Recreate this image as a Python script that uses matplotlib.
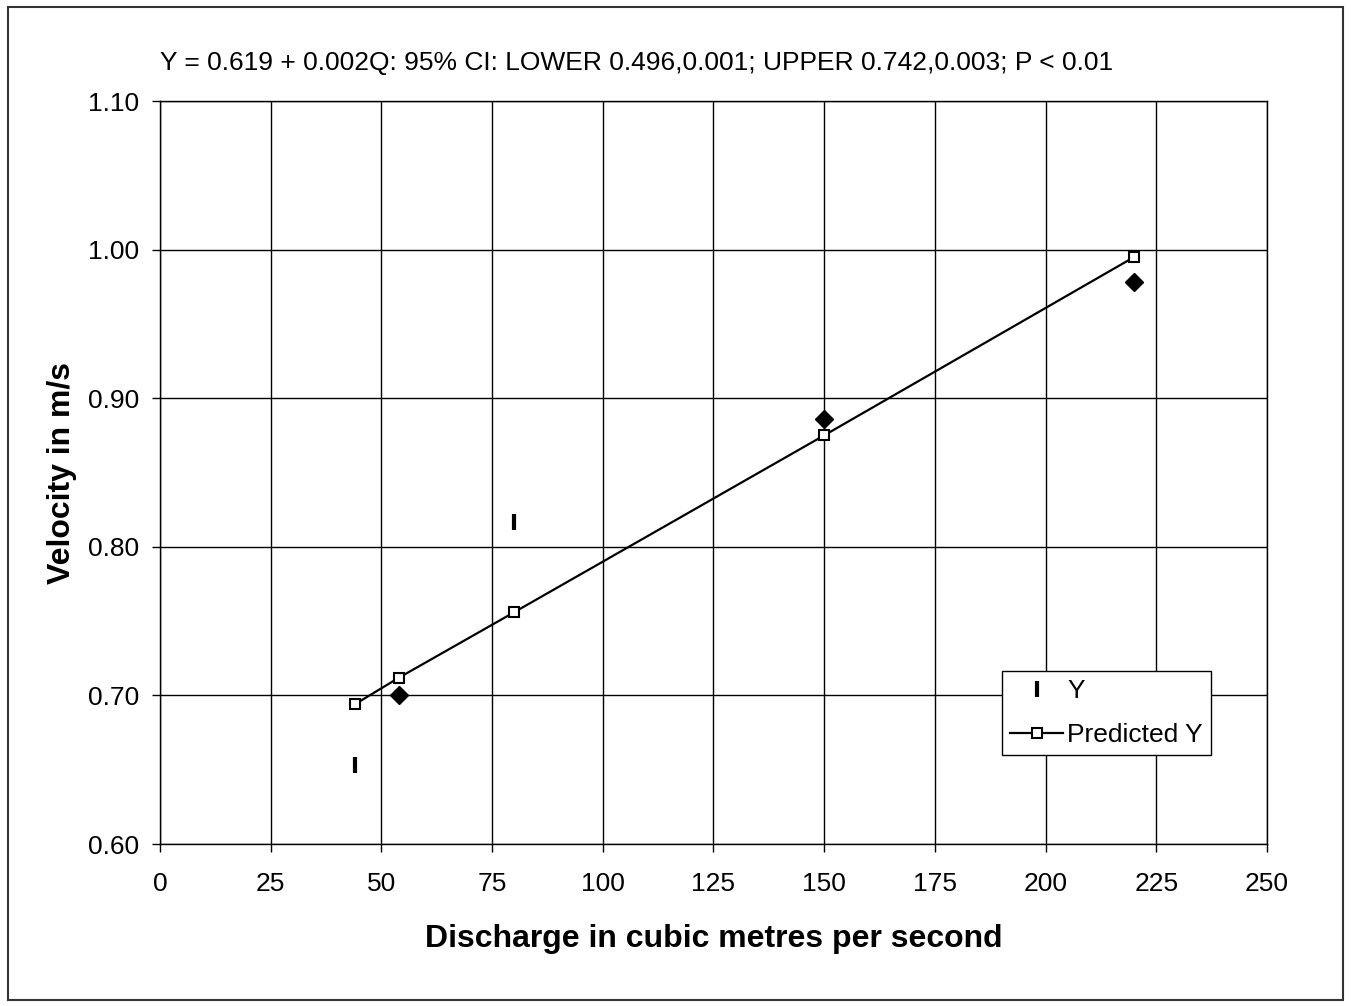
import matplotlib
matplotlib.use('Agg')
from matplotlib import pyplot as plt
from matplotlib.patches import Rectangle

# discharge (m3/s) and velocities (m/s)
discharge = [44, 54, 80, 150, 220]
velocity_obs = [0.653, 0.700, 0.817, 0.886, 0.978]
velocity_pred = [0.694, 0.712, 0.756, 0.875, 0.995]

x_ticks = [0, 25, 50, 75, 100, 125, 150, 175, 200, 225, 250]
y_ticks = [0.60, 0.70, 0.80, 0.90, 1.00, 1.10]

title = 'Y = 0.619 + 0.002Q: 95% CI: LOWER 0.496,0.001; UPPER 0.742,0.003; P < 0.01'

# points that the scan shows as a bar glyph rather than a diamond
bar_points = [0, 2]


def main():
    plt.rcParams['font.family'] = ['Liberation Sans', 'DejaVu Sans']
    fig = plt.figure(figsize=(13.51, 10.06), dpi=100)
    ax = fig.add_axes((0.1184, 0.161, 0.8194, 0.7386))

    fig.patches.append(Rectangle((8 / 1351, 6 / 1006), 1335 / 1351, 993 / 1006,
                                 transform=fig.transFigure, fill=False,
                                 edgecolor='#333333', linewidth=1.5))

    ax.set_xlim(0, 250)
    ax.set_ylim(0.60, 1.10)
    ax.set_xticks(x_ticks)
    ax.set_yticks(y_ticks)
    ax.set_yticklabels(['%.2f' % v for v in y_ticks])
    ax.grid(True, color='black', linewidth=1.0)
    ax.set_axisbelow(True)
    ax.tick_params(direction='out', length=6, width=1, labelsize=19, pad=9)
    ax.tick_params(axis='x', pad=14)
    for sp in ax.spines.values():
        sp.set_linewidth(1.0)

    bx = [discharge[i] for i in bar_points]
    by = [velocity_obs[i] for i in bar_points]
    dx = [discharge[i] for i in range(len(discharge)) if i not in bar_points]
    dy = [velocity_obs[i] for i in range(len(discharge)) if i not in bar_points]
    ax.plot(bx, by, linestyle='none', marker='|', markersize=11,
            markeredgewidth=3, color='black', label='Y', zorder=3)
    ax.plot(dx, dy, linestyle='none', marker='D', markersize=9,
            color='black', zorder=3)
    ax.plot(discharge, velocity_pred, color='black', linewidth=1.6,
            marker='s', markersize=7, markerfacecolor='white',
            markeredgewidth=1.5, label='Predicted Y', zorder=4)

    ax.set_xlabel('Discharge in cubic metres per second', fontsize=23,
                  fontweight='bold', labelpad=20)
    ax.set_ylabel('Velocity in m/s', fontsize=23, fontweight='bold', labelpad=8)

    fig.text(160 / 1351, 1 - 63 / 1006, title, fontsize=19, va='center', ha='left')

    leg = ax.legend(loc='lower left', bbox_to_anchor=(0.761, 0.12), fontsize=19,
                    fancybox=False, framealpha=1, edgecolor='black',
                    borderpad=0.3, handlelength=2.0, handletextpad=0.15,
                    borderaxespad=0, labelspacing=0.75)
    leg.get_frame().set_linewidth(1.0)

    fig.savefig('out.png', dpi=100)


if __name__ == '__main__':
    main()
